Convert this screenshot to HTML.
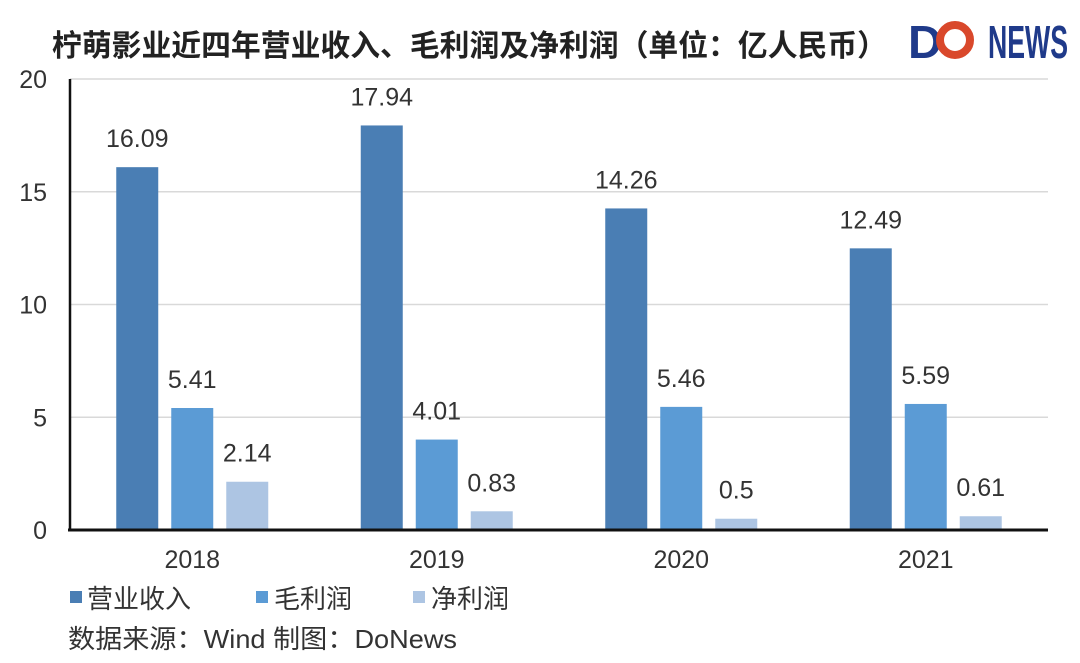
<!DOCTYPE html>
<html><head><meta charset="utf-8"><style>
body{margin:0;background:#fff;}
svg{display:block;font-family:"Liberation Sans","Noto Sans CJK SC",sans-serif;}
</style></head><body>
<svg id="chart" width="1080" height="663">
<text x="52" y="56" font-size="30" font-weight="bold" fill="#222" textLength="835" lengthAdjust="spacingAndGlyphs">柠萌影业近四年营业收入、毛利润及净利润（单位：亿人民币）</text>
<g>
<text x="908" y="58" font-size="46" font-weight="bold" fill="#1f3a8a" textLength="34" lengthAdjust="spacingAndGlyphs">D</text>
<circle cx="955" cy="40" r="15" fill="none" stroke="#d9482b" stroke-width="8"/>
<text x="988" y="58" font-size="46" font-weight="bold" fill="#1f3a8a" textLength="80" lengthAdjust="spacingAndGlyphs">NEWS</text>
</g>
<g id="grid"></g><g id="bars"></g><g id="labels"></g>
<g>
<rect x="70" y="591" width="12" height="12" fill="#4a7eb4"/>
<text x="87" y="608" font-size="26" fill="#333">营业收入</text>
<rect x="256" y="591" width="12" height="12" fill="#5b9bd5"/>
<text x="274" y="608" font-size="26" fill="#333">毛利润</text>
<rect x="413" y="591" width="12" height="12" fill="#adc5e3"/>
<text x="431" y="608" font-size="26" fill="#333">净利润</text>
</g>
<text x="68" y="648" font-size="26" fill="#333" textLength="389" lengthAdjust="spacingAndGlyphs">数据来源：Wind  制图：DoNews</text>
</svg>
<script>
const categories=["2018","2019","2020","2021"];
const revenue=[16.09,17.94,14.26,12.49];
const gross=[5.41,4.01,5.46,5.59];
const net=[2.14,0.83,0.5,0.61];
const yTicks=[0,5,10,15,20];
const ns="http://www.w3.org/2000/svg";
const x0=70,x1=1048,y0=530,y20=79;
const y=v=>y0-(v/20)*(y0-y20);
const catW=(x1-x0)/categories.length;
const cx=i=>x0+catW*(i+0.5);
function mk(t,a,p){const e=document.createElementNS(ns,t);for(const k in a)e.setAttribute(k,a[k]);p.appendChild(e);return e;}
const G=document.getElementById('grid'),B=document.getElementById('bars'),L=document.getElementById('labels');
yTicks.forEach(t=>{
 if(t>0){const l=mk('line',{x1:x0,x2:x1,y1:y(t),y2:y(t),stroke:'#d9d9d9','stroke-width':1.5},G);
 
 }
 const tx=mk('text',{x:47,y:y(t)+9,'font-size':25,fill:'#333','text-anchor':'end'},G);tx.textContent=t;
 
 
});
const series=[[revenue,'#4a7eb4','revenue',-55],[gross,'#5b9bd5','gross',0],[net,'#adc5e3','net',55]];
categories.forEach((c,i)=>{
 series.forEach(([arr,col,nm,off])=>{
  const v=arr[i],bx=cx(i)+off-21;
  const r=mk('rect',{x:bx,y:y(v),width:42,height:y0-y(v),fill:col},B);
  
  
  const t=mk('text',{x:bx+21,y:y(v)-20,'font-size':25,fill:'#333','text-anchor':'middle'},L);t.textContent=v;
  
  
 });
 const t=mk('text',{x:cx(i),y:568,'font-size':25,fill:'#333','text-anchor':'middle'},L);t.textContent=c;
 
 
});
const ax=mk('line',{x1:x0-2,x2:x1,y1:y0,y2:y0,stroke:'#111','stroke-width':3},L);


const ay=mk('line',{x1:x0,x2:x0,y1:y20,y2:y0,stroke:'#111','stroke-width':2.5},L);


</script>
</body></html>
